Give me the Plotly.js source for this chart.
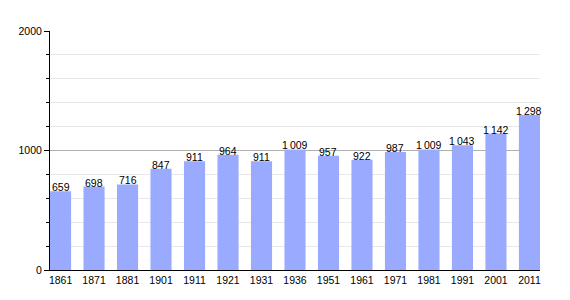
<!DOCTYPE html>
<html><head><meta charset="utf-8">
<script src="https://cdn.plot.ly/plotly-3.0.1.min.js"></script>
<style>body{margin:0;background:#fff}#c{width:570px;height:300px}</style>
</head><body><div id="c"></div>
<script>
const years = ["1861","1871","1881","1901","1911","1921","1931","1936","1951","1961","1971","1981","1991","2001","2011"];
const population = [659,698,716,847,911,964,911,1009,957,922,987,1009,1043,1142,1298];
const yTicks = [0,1000,2000];

function fmt(v){ const s = String(v); return s.length > 3 ? s.slice(0, s.length-3) + "\u2009" + s.slice(-3) : s; }

const FONT = "Liberation Sans, Arial, sans-serif";
const trace = {
  type: "bar", x: years, y: population,
  marker: {color: "#99aaff", line: {width: 0}},
  width: 0.63, hoverinfo: "none"
};
const labels = years.map((yr, i) => ({
  x: i, y: population[i], xref: "x", yref: "y", text: fmt(population[i]),
  showarrow: false, xanchor: "center", yanchor: "bottom", yshift: -4,
  font: {family: FONT, size: 10.5, color: "#000"}
}));
const layout = {
  width: 570, height: 300,
  margin: {l: 50, r: 30, t: 31, b: 30, pad: 0},
  paper_bgcolor: "#fff", plot_bgcolor: "#fff",
  showlegend: false,
  font: {family: FONT, size: 10, color: "#000"},
  annotations: labels,
  xaxis: {type: "category", range: [-0.315, 14.315], showline: true, linecolor: "#000", linewidth: 1,
          ticks: "", showgrid: false, zeroline: false, tickfont: {size: 10.5}, fixedrange: true},
  yaxis: {range: [0, 2000], tickvals: yTicks, ticktext: yTicks.map(String), showline: true, linecolor: "#000", linewidth: 1,
          ticks: "outside", ticklen: 5, tickcolor: "#000", gridcolor: "#b0b0b0", gridwidth: 1,
          zeroline: false, tickfont: {size: 10.5},
          minor: {dtick: 200, showgrid: true, gridcolor: "#e8e8e8", ticks: "outside", ticklen: 3, tickcolor: "#000"}}
};
Plotly.newPlot("c", [trace], layout, {displayModeBar: false, staticPlot: true});
</script></body></html>
